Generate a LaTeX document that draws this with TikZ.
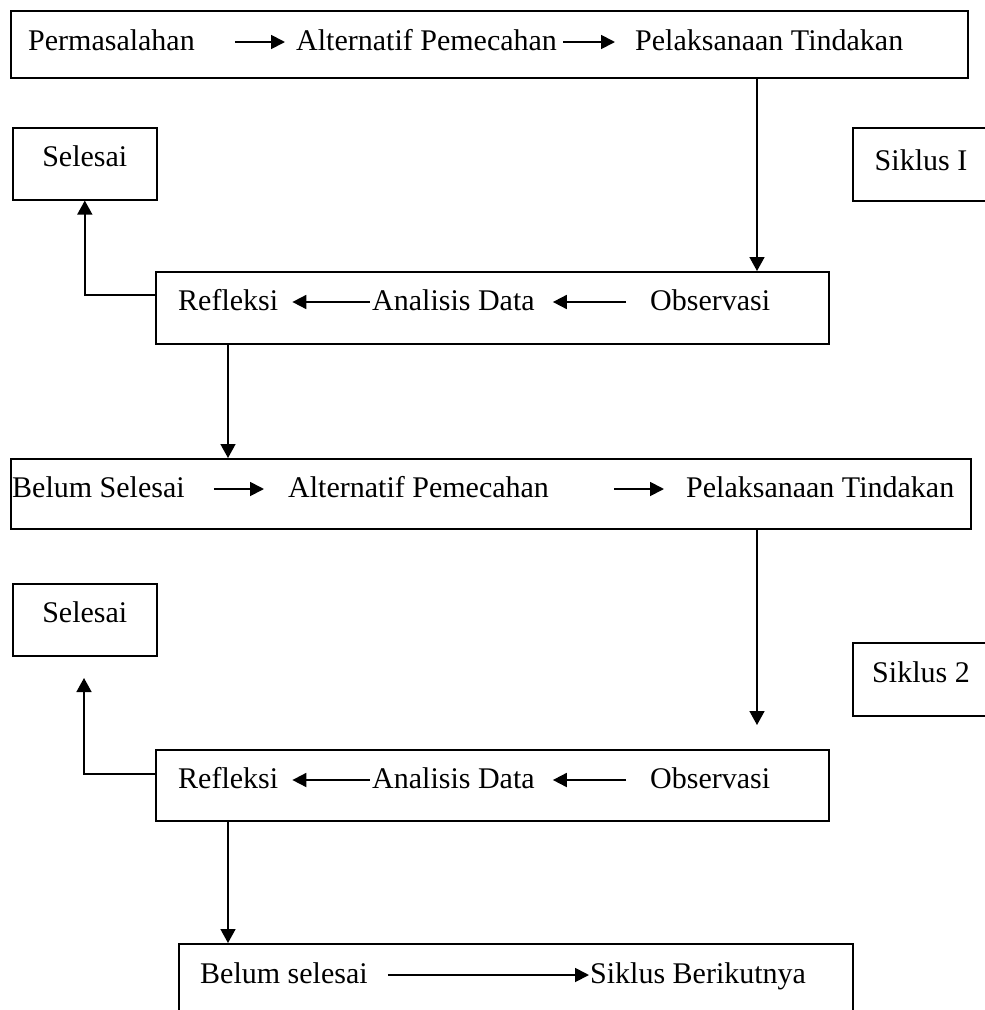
\documentclass[tikz,border=0pt]{standalone}
\usepackage{fontspec}
\setmainfont{Liberation Serif}
\usetikzlibrary{arrows.meta}
\begin{document}
\begin{tikzpicture}[x=1pt,y=-1pt,
  boxs/.style={draw, line width=1.6pt, inner sep=0pt, anchor=north west},
  txt/.style={inner sep=0pt, anchor=base west, font=\fontsize{30}{35}\selectfont},
  txtc/.style={inner sep=0pt, anchor=base, font=\fontsize{30}{35}\selectfont},
  arr/.style={line width=1.6pt, -{Triangle[length=14pt,width=15pt]}},
  sarr/.style={line width=1.8pt, -{Triangle[length=14pt,width=14pt]}}]
\useasboundingbox (0,0) rectangle (985,1010);
\clip (0,0) rectangle (985,1010);
% boxes
\node[boxs, minimum width=957pt, minimum height=67pt] (b1) at (10,10) {};
\node[boxs, minimum width=144pt, minimum height=72pt] (s1) at (12,127) {};
\node[boxs, minimum width=160pt, minimum height=73pt] (k1) at (852,127) {};
\node[boxs, minimum width=673pt, minimum height=72pt] (r1) at (155,271) {};
\node[boxs, minimum width=960pt, minimum height=70pt] (b2) at (10,458) {};
\node[boxs, minimum width=144pt, minimum height=72pt] (s2) at (12,583) {};
\node[boxs, minimum width=160pt, minimum height=73pt] (k2) at (852,642) {};
\node[boxs, minimum width=673pt, minimum height=71pt] (r2) at (155,749) {};
\node[boxs, minimum width=674pt, minimum height=100pt] (b3) at (178,943) {};
% row 1
\node[txt] (t11) at (28,50) {Permasalahan};
\node[txt] (t12) at (296,50) {Alternatif Pemecahan};
\node[txt] (t13) at (635,50) {Pelaksanaan Tindakan};
\draw[sarr] ([xshift=40pt,yshift=8pt]t11.base east) -- ([xshift=-11pt,yshift=8pt]t12.base west);
\draw[sarr] ([xshift=6pt,yshift=8pt]t12.base east) -- ([xshift=-20pt,yshift=8pt]t13.base west);
% selesai / siklus 1
\node[txtc] (ts1) at (s1.north |- 0,166) {Selesai};
\node[txtc] (tk1) at (921,170) {Siklus I};
% row 2
\node[txt] (t21) at (178,310) {Refleksi};
\node[txt] (t22) at (372,310) {Analisis Data};
\node[txt] (t23) at (650,310) {Observasi};
\draw[sarr] ([xshift=-2pt,yshift=8pt]t22.base west) -- ([xshift=14pt,yshift=8pt]t21.base east);
\draw[sarr] ([xshift=-24pt,yshift=8pt]t23.base west) -- ([xshift=18pt,yshift=8pt]t22.base east);
% row 3
\node[txt] (t31) at (12,497) {Belum Selesai};
\node[txt] (t32) at (288,497) {Alternatif Pemecahan};
\node[txt] (t33) at (686,497) {Pelaksanaan Tindakan};
\draw[sarr] ([xshift=29pt,yshift=8pt]t31.base east) -- ([xshift=-24pt,yshift=8pt]t32.base west);
\draw[sarr] ([xshift=65pt,yshift=8pt]t32.base east) -- ([xshift=-22pt,yshift=8pt]t33.base west);
% selesai / siklus 2
\node[txtc] (ts2) at (s2.north |- 0,622) {Selesai};
\node[txtc] (tk2) at (921,682) {Siklus 2};
% row 4
\node[txt] (t41) at (178,788) {Refleksi};
\node[txt] (t42) at (372,788) {Analisis Data};
\node[txt] (t43) at (650,788) {Observasi};
\draw[sarr] ([xshift=-2pt,yshift=8pt]t42.base west) -- ([xshift=14pt,yshift=8pt]t41.base east);
\draw[sarr] ([xshift=-24pt,yshift=8pt]t43.base west) -- ([xshift=18pt,yshift=8pt]t42.base east);
% row 5
\node[txt] (t51) at (200,983) {Belum selesai};
\node[txt] (t52) at (590,983) {Siklus Berikutnya};
\draw[sarr] ([xshift=20pt,yshift=8pt]t51.base east) -- ([xshift=-1pt,yshift=8pt]t52.base west);
% connectors
\coordinate (c1) at (757,0);
\coordinate (c2) at (228,0);
\coordinate (h1) at (0,295);
\coordinate (h2) at (0,774);
\coordinate (e1) at (757,725);
\coordinate (e2) at (84,678);
\draw[arr] (b1.south -| c1) -- (r1.north -| c1);
\draw[arr] (r1.west |- h1) -| (s1.south);
\draw[arr] (r1.south -| c2) -- (b2.north -| c2);
\draw[arr] (b2.south -| c1) -- (e1);
\draw[arr] (r2.west |- h2) -| (e2);
\draw[arr] (r2.south -| c2) -- (b3.north -| c2);
\end{tikzpicture}
\end{document}
